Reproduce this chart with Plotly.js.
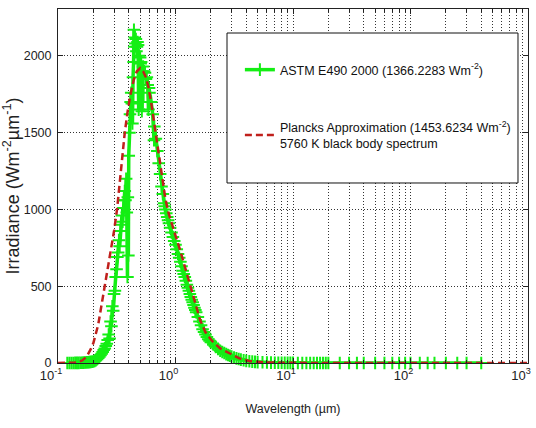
<!DOCTYPE html>
<html>
<head>
<meta charset="utf-8">
<script src="https://cdn.plot.ly/plotly-3.0.1.min.js"></script>
<style>html,body{margin:0;padding:0;background:#fff;}#chart{width:536px;height:428px;}</style>
</head>
<body>
<div id="chart"></div>
<script>
// ASTM E490 2000 spectrum (wavelength in µm, irradiance in W m^-2 µm^-1)
const astmWl = [
  0.12,0.125,0.13,0.135,0.14,0.145,0.15,0.155,0.16,0.165,0.17,0.175,0.18,0.185,0.19,0.195,
  0.2,0.205,0.21,0.215,0.22,0.225,0.23,0.235,0.24,0.245,0.25,0.255,0.26,0.265,0.27,0.275,0.28,0.285,0.29,0.295,
  0.3,0.305,0.31,0.315,0.32,0.325,0.33,0.335,0.34,0.345,0.35,0.355,0.36,0.365,0.37,0.375,0.38,0.385,0.39,0.393,0.397,0.4,0.405,0.41,0.415,0.42,0.425,0.43,0.435,0.44,0.443,0.447,0.45,0.455,0.46,0.465,0.47,0.475,0.48,0.486,0.49,0.495,0.5,0.505,0.51,0.517,0.52,0.527,0.53,0.54,0.55,0.56,0.57,0.58,0.589,0.595,0.6,0.62,0.64,0.656,0.66,0.68,0.7,0.72,0.74,0.76,0.78,
  0.8,0.81,0.82,0.835,0.85,0.865,0.88,0.9,0.925,0.95,0.975,1.0,1.025,1.05,1.075,1.1,1.125,1.15,1.175,1.2,1.225,1.25,1.275,1.3,1.325,1.35,1.375,1.4,1.425,1.45,1.475,1.5,1.55,1.6,1.65,1.7,1.75,1.8,1.85,1.9,1.95,2.0,2.1,2.2,2.3,2.4,2.5,2.6,2.7,2.8,2.9,3.0,3.15,3.3,3.45,3.6,3.8,4.0,4.25,4.5,4.75,5.0,5.5,6,6.5,7,7.5,8,8.5,9,9.5,
  10,11,12,13,14,15,16,17,18,19,20,25,30,35,40,50,60,70,80,90,100,120,140,160,200,250,300,400
];
const astmIrr = [
  0.1,0.2,0.3,0.4,0.5,0.7,1,1.5,2,2.5,3,4,5,6,7,8.5,
  10,14,18,24,32,40,50,60,72,85,95,110,125,150,185,160,270,240,370,340,
  450,470,560,610,690,720,800,760,860,900,960,920,1010,1060,1120,1060,1200,980,560,1080,700,1350,1500,1620,1700,1760,1690,1560,1860,1960,2170,2060,2120,2080,2110,2030,2060,2090,2070,1650,2000,1960,1990,1950,1960,1640,1900,1700,1930,1900,1890,1850,1860,1810,1650,1790,1760,1700,1620,1450,1540,1460,1380,1300,1230,1150,1100,
  1040,1020,1000,975,950,930,910,880,850,820,795,770,740,710,685,660,630,600,580,560,535,510,490,470,450,430,412,395,378,360,345,330,300,270,245,220,202,185,170,155,145,135,120,105,92,80,72,65,58,52,47,42,36,30,26,22,18,14,11,9,7.5,6,4.5,3.5,2.7,2,1.6,1.3,1.1,0.9,0.75,
  0.6,0.45,0.35,0.28,0.22,0.18,0.15,0.12,0.1,0.09,0.08,0.04,0.02,0.01,0.01,0,0,0,0,0,0,0,0,0,0,0,0,0
];

// Planck approximation, 5760 K black body
const planckWl = [0.1,0.12,0.14,0.16,0.175,0.19,0.2,0.22,0.235,0.25,0.265,0.283,0.3,0.318,0.34,0.37,0.39,0.41,0.44,0.468,0.5,0.53,0.56,0.587,0.62,0.67,0.72,0.77,0.82,0.87,0.93,1.0,1.09,1.2,1.33,1.45,1.62,1.8,2.04,2.4,2.9,3.5,4.3,5,6,8,10,15,20,50,100,200,500,1000];
const planckIrr = [0,0,3,15,40,90,130,250,380,500,620,735,860,1000,1230,1500,1630,1735,1840,1898,1920,1900,1860,1800,1700,1520,1350,1190,1070,980,900,830,740,630,500,400,280,200,145,95,60,30,12,7,3.5,1.5,0.7,0.2,0.1,0,0,0,0,0];

const seriesNames = [
  'ASTM E490 2000 (1366.2283 Wm<sup>-2</sup>)',
  'Plancks Approximation (1453.6234 Wm<sup>-2</sup>)<br>5760 K black body spectrum'
];

const xDecades = [0.1, 1, 10, 100, 1000];
const xDecadeLabels = ['10<sup>-1</sup>','10<sup>0</sup>','10<sup>1</sup>','10<sup>2</sup>','10<sup>3</sup>'];
const yTicks = [0, 500, 1000, 1500, 2000];

const xMinor = [];
for (let d = 0; d < xDecades.length - 1; d++) {
  for (let k = 2; k <= 9; k++) xMinor.push(xDecades[d] * k);
}

const FONT = 'Liberation Sans, Arial, sans-serif';
const GREEN = '#14ee14';
const RED = '#c0201c';
const GRID = '#333333';
const DOT = '1px,2px';

const traces = [
  {
    x: astmWl, y: astmIrr, type: 'scatter', mode: 'lines+markers',
    name: seriesNames[0], legendgroup: 'a',
    line: {color: GREEN, width: 3.5},
    marker: {symbol: 'cross-thin', size: 9, color: GREEN, line: {color: GREEN, width: 2}},
    cliponaxis: false
  },
  {
    x: planckWl, y: planckIrr, type: 'scatter', mode: 'lines',
    name: seriesNames[1], legendgroup: 'b',
    line: {color: RED, width: 2.5, dash: '7px,4px'}
  }
];

const layout = {
  width: 536, height: 428,
  margin: {l: 58, r: 8, t: 9, b: 65, autoexpand: false},
  paper_bgcolor: '#ffffff', plot_bgcolor: '#ffffff',
  font: {family: FONT, size: 12, color: '#222'},
  showlegend: true,
  legend: {
    x: 0.387, y: 0.870, xanchor: 'left', yanchor: 'top',
    bgcolor: 'rgba(0,0,0,0)', borderwidth: 0,
    font: {family: FONT, size: 12.5, color: '#111'},
    tracegroupgap: 38, valign: 'middle'
  },
  shapes: [{
    type: 'rect', xref: 'paper', yref: 'paper',
    x0: 0.3596, x1: 0.9787, y0: 0.5085, y1: 0.9322,
    line: {color: '#111', width: 1}, fillcolor: '#ffffff', layer: 'above'
  }],
  xaxis: {
    type: 'log', range: [-1, 3],
    tickmode: 'array', tickvals: xDecades, ticktext: xDecadeLabels,
    ticks: 'inside', ticklen: 5, tickcolor: '#222',
    showline: true, linecolor: '#222', linewidth: 1, mirror: 'allticks',
    showgrid: true, gridcolor: GRID, griddash: DOT, gridwidth: 1,
    zeroline: false, ticklabeloverflow: 'allow', ticklabelshift: -7,
    tickfont: {family: FONT, size: 13, color: '#222'},
    minor: {tickmode: 'array', tickvals: xMinor, ticks: 'inside', ticklen: 3, tickcolor: '#222',
            showgrid: true, gridcolor: GRID, griddash: DOT, gridwidth: 1},
    title: {text: 'Wavelength (µm)', font: {family: FONT, size: 12.5, color: '#222'}, standoff: 22}
  },
  yaxis: {
    range: [0, 2305],
    tickmode: 'array', tickvals: yTicks,
    ticks: 'inside', ticklen: 5, tickcolor: '#222',
    showline: true, linecolor: '#222', linewidth: 1, mirror: 'allticks',
    showgrid: true, gridcolor: GRID, griddash: DOT, gridwidth: 1,
    zeroline: false,
    tickfont: {family: FONT, size: 12.5, color: '#222'},
    ticklabelstandoff: 3,
    title: {text: 'Irradiance (Wm<sup>-2</sup>µm<sup>-1</sup>)', font: {family: FONT, size: 18, color: '#222'}, standoff: 2}
  }
};

Plotly.newPlot('chart', traces, layout, {displayModeBar: false, staticPlot: true});
</script>
</body>
</html>
